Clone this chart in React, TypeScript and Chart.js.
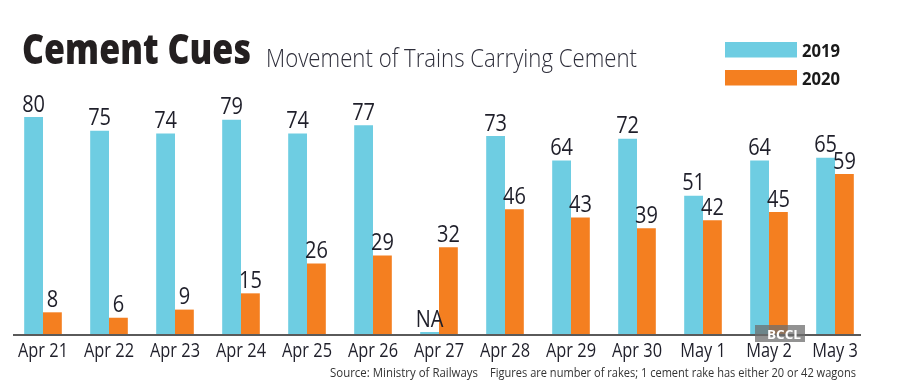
import React, { useEffect, useRef } from "react";
import { Chart, registerables } from "chart.js";

Chart.register(...registerables);

const categories = ["Apr 21", "Apr 22", "Apr 23", "Apr 24", "Apr 25", "Apr 26", "Apr 27", "Apr 28", "Apr 29", "Apr 30", "May 1", "May 2", "May 3"];
const rakes2019: (number | null)[] = [80, 75, 74, 79, 74, 77, null, 73, 64, 72, 51, 64, 65];
const rakes2020: number[] = [8, 6, 9, 15, 26, 29, 32, 46, 43, 39, 42, 45, 59];
const seriesNames = ["2019", "2020"];
const titleText = "Cement Cues";
const subtitleText = "Movement of Trains Carrying Cement";
const sourceText = "Source: Ministry of Railways";
const noteText = "Figures are number of rakes; 1 cement rake has either 20 or 42 wagons";

const CYAN = "#6ecde2";
const ORANGE = "#f47f20";
const FONT = '"Open Sans", sans-serif';

function fitText(ctx: CanvasRenderingContext2D, text: string, x: number, y: number, width: number) {
  const w = ctx.measureText(text).width;
  ctx.save();
  ctx.translate(x, y);
  ctx.scale(width / w, 1);
  ctx.textAlign = "left";
  ctx.fillText(text, 0, 0);
  ctx.restore();
}

function centerScaled(ctx: CanvasRenderingContext2D, text: string, cx: number, y: number, sx: number) {
  ctx.save();
  ctx.translate(cx, y);
  ctx.scale(sx, 1);
  ctx.textAlign = "center";
  ctx.fillText(text, 0, 0);
  ctx.restore();
}

const decorPlugin = {
  id: "decor",
  afterDraw(chart: any) {
    const ctx: CanvasRenderingContext2D = chart.ctx;
    ctx.save();
    ctx.textBaseline = "alphabetic";
    // title
    ctx.fillStyle = "#231f20";
    ctx.font = `800 43px ${FONT}`;
    fitText(ctx, titleText, 22, 64, 229);
    ctx.fillStyle = "#2e2e3a";
    ctx.font = `300 26px ${FONT}`;
    fitText(ctx, subtitleText, 266, 67, 371);
    // legend
    const colors = [CYAN, ORANGE];
    const ys = [42, 70];
    for (let i = 0; i < 2; i++) {
      ctx.fillStyle = colors[i];
      ctx.fillRect(725, ys[i], 72, 15.5);
      ctx.fillStyle = "#1a1a1a";
      ctx.font = `bold 17px ${FONT}`;
      fitText(ctx, seriesNames[i], 802, ys[i] + 14.5, 38);
    }
    // x category labels along the library's x scale
    const xs = chart.scales.x;
    ctx.fillStyle = "#1f1f2a";
    ctx.font = `19.5px ${FONT}`;
    categories.forEach((c, i) => {
      centerScaled(ctx, c, xs.getPixelForValue(i), 357, 0.84);
    });
    // source
    ctx.fillStyle = "#333";
    ctx.font = `13px ${FONT}`;
    fitText(ctx, sourceText, 330, 377, 148);
    fitText(ctx, noteText, 490, 377, 366);
    // baseline
    const yb = chart.scales.y.getPixelForValue(0);
    ctx.strokeStyle = "#5a5a5a";
    ctx.lineWidth = 2;
    ctx.beginPath();
    ctx.moveTo(13, yb + 1);
    ctx.lineTo(861, yb + 1);
    ctx.stroke();
    // watermark
    ctx.fillStyle = "rgba(110,110,110,0.75)";
    ctx.fillRect(755, 325, 50, 17);
    ctx.fillStyle = "#fff";
    ctx.font = `bold 13px ${FONT}`;
    fitText(ctx, "BCCL", 767, 339, 34);
    ctx.restore();
  },
  afterDatasetsDraw(chart: any) {
    const ctx: CanvasRenderingContext2D = chart.ctx;
    ctx.save();
    ctx.fillStyle = "#1f1f2a";
    ctx.font = `23px ${FONT}`;
    ctx.textBaseline = "alphabetic";
    chart.data.datasets.forEach((ds: any, di: number) => {
      const meta = chart.getDatasetMeta(di);
      meta.data.forEach((bar: any, i: number) => {
        const raw = di === 0 ? rakes2019[i] : rakes2020[i];
        const label = raw === null ? "NA" : String(raw);
        centerScaled(ctx, label, bar.x, bar.y - 5.5, 0.87);
      });
    });
    ctx.restore();
  },
};

export default function App() {
  const ref = useRef<HTMLCanvasElement | null>(null);
  useEffect(() => {
    document.body.style.margin = "0";
    const chart = new Chart(ref.current!, {
      type: "bar",
      data: {
        labels: categories,
        datasets: [
          {
            label: seriesNames[0],
            data: rakes2019.map((v) => (v === null ? 0 : v)),
            backgroundColor: CYAN,
            minBarLength: 2,
            categoryPercentage: 0.57,
            barPercentage: 1,
          },
          {
            label: seriesNames[1],
            data: rakes2020,
            backgroundColor: ORANGE,
            categoryPercentage: 0.57,
            barPercentage: 1,
          },
        ],
      },
      options: {
        animation: false,
        responsive: false,
        layout: { padding: { top: 90, left: 10, right: 32, bottom: 0 } },
        plugins: { legend: { display: false }, tooltip: { enabled: false } },
        scales: {
          x: {
            grid: { display: false, drawTicks: false },
            border: { display: false },
            ticks: { display: false },
            afterFit: (scale: any) => {
              scale.height = 55;
            },
          },
          y: { display: false, min: 0, max: 90 },
        },
      },
      plugins: [decorPlugin],
    });
    return () => chart.destroy();
  }, []);
  return (
    <div style={{ width: 900, height: 389, background: "#fff" }}>
      <canvas ref={ref} width={900} height={389} />
    </div>
  );
}
